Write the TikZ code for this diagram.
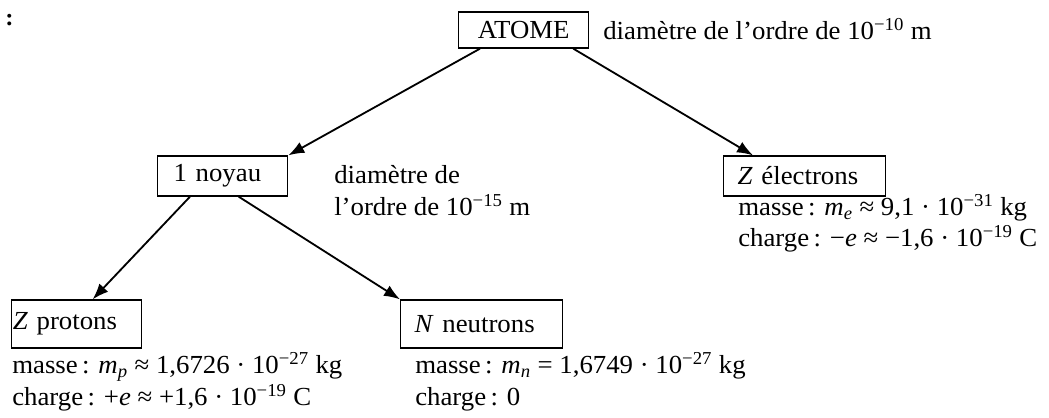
\documentclass[tikz,border=0pt]{standalone}
\usepackage{fontspec}
\setmainfont{Liberation Serif}[FakeStretch=1.03]
\usetikzlibrary{arrows.meta}
\newcommand{\puiss}[1]{10\textsuperscript{−#1}}
\newcommand{\masse}[1]{\textit{m}\textsubscript{\textit{#1}}}
\tikzset{
  >=Latex,
  fleche/.style={-{Latex[length=4mm,width=3mm]},line width=1.3pt},
  particule/.style={rectangle,draw,line width=0.9pt,anchor=west,align=left,minimum height=1cm},
  info/.style={anchor=base west,align=left,inner sep=0pt}
}

\begin{document}
\begin{tikzpicture}[x=0.025cm,y=-0.025cm,font=\fontsize{18.5}{22.5}\selectfont]
  \useasboundingbox (0,0) rectangle (1049,417);
  \node[anchor=west,inner sep=0pt,font=\bfseries\fontsize{17}{20}\selectfont] (deuxpoints) at (5,20) {:};

  % l'atome
  \node[particule,minimum height=0.9cm,text width=3.25cm,align=center,inner xsep=0pt] (atome) at (458,30) {ATOME};
  \node[info] (atomediam) at (603,39) {diamètre de l’ordre de \puiss{10} m};

  % noyau et electrons
  \node[particule,inner xsep=0.4cm,text width=2.45cm] (noyau) at (157,176) {1 noyau};
  \node[info] (noyaudiam) at (334,215) {diamètre de\\l’ordre de \puiss{15} m};
  \node[particule,inner xsep=0.35cm,text width=3.35cm] (electrons) at (723,176) {\textit{Z} électrons};
  \node[info] (electronsinfo) at (738,246) {masse\,: \masse{e} ≈ 9,1 · \puiss{31} kg\\[-1pt]charge\,: −\textit{e} ≈ −1,6 · \puiss{19} C};

  % nucleons
  \node[particule,minimum height=1.2cm,inner xsep=0.03cm,text width=3.19cm] (protons) at (11,324) {\textit{Z} protons};
  \node[info] (protonsinfo) at (12,405) {masse\,: \masse{p} ≈ 1,6726 · \puiss{27} kg\\charge\,: +\textit{e} ≈ +1,6 · \puiss{19} C};
  \node[particule,minimum height=1.2cm,inner xsep=0.35cm,text width=3.35cm] (neutrons) at (400,324) {\textit{N} neutrons};
  \node[info] (neutronsinfo) at (415,405) {masse\,: \masse{n} = 1,6749 · \puiss{27} kg\\charge\,: 0};

  \draw[fleche] ([xshift=0.55cm]atome.south west) -- (noyau.north east);
  \draw[fleche] ([xshift=-0.4cm]atome.south east) -- ([xshift=0.75cm]electrons.north west);
  \draw[fleche] ([xshift=0.825cm]noyau.south west) -- ([xshift=0.4cm]protons.north);
  \draw[fleche] ([xshift=0.4cm]noyau.south) -- (neutrons.north west);
\end{tikzpicture}
\end{document}
